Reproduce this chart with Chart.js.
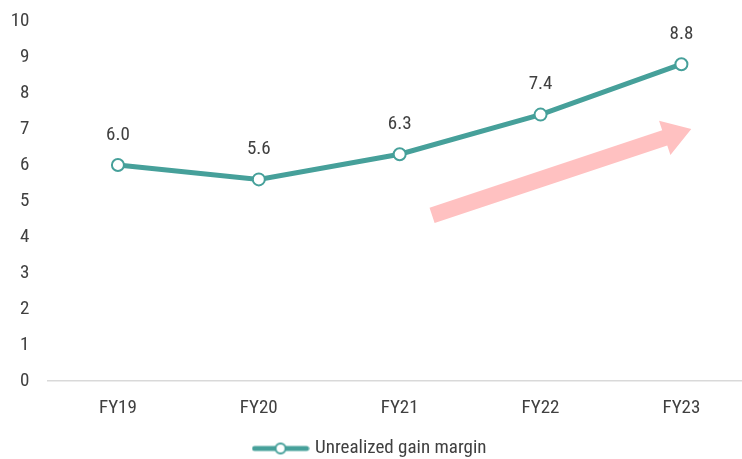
<!DOCTYPE html>
<html>
<head>
<meta charset="utf-8">
<script src="https://cdn.jsdelivr.net/npm/chart.js@4"></script>
<style>
  body { margin: 0; background: #fff; }
  #wrap { width: 742px; height: 459px; }
</style>
</head>
<body>
<div id="wrap"><canvas id="gainChart" width="742" height="459"></canvas></div>
<script>
// data
const years = ['FY19', 'FY20', 'FY21', 'FY22', 'FY23'];
const gainMargin = [6.0, 5.6, 6.3, 7.4, 8.8];
const yTicks = [0, 1, 2, 3, 4, 5, 6, 7, 8, 9, 10];
// trend arrow, in data units (x = category index, y = value)
const arrowFrom = [2.23, 4.6];
const arrowTo = [4.07, 7.0];

const teal = '#46a09a';
const textColor = '#404040';
const fontFamily = "'Liberation Sans Narrow', 'Roboto Condensed', 'Liberation Sans', Arial, sans-serif";
const fontSize = 19;

// legend marker: line with a hollow circle in the middle
const marker = document.createElement('canvas');
marker.width = 58;
marker.height = 14;
(function() {
    const c = marker.getContext('2d');
    c.strokeStyle = teal;
    c.lineWidth = 5;
    c.lineCap = 'round';
    c.beginPath();
    c.moveTo(3, 7);
    c.lineTo(55, 7);
    c.stroke();
    c.beginPath();
    c.arc(29, 7, 5, 0, Math.PI * 2);
    c.fillStyle = '#fff';
    c.fill();
    c.lineWidth = 2;
    c.stroke();
})();

// value labels above the points
const valueLabels = {
    id: 'valueLabels',
    afterDatasetsDraw(chart) {
        const ctx = chart.ctx;
        const meta = chart.getDatasetMeta(0);
        ctx.save();
        ctx.font = fontSize + 'px ' + fontFamily;
        ctx.fillStyle = textColor;
        ctx.textAlign = 'center';
        ctx.textBaseline = 'middle';
        meta.data.forEach(function(pt, i) {
            ctx.fillText(gainMargin[i].toFixed(1), pt.x, pt.y - 30);
        });
        ctx.restore();
    }
};

// pink trend arrow
const trendArrow = {
    id: 'trendArrow',
    beforeDatasetsDraw(chart) {
        const xs = chart.scales.x, ys = chart.scales.y;
        const x0 = xs.getPixelForValue(arrowFrom[0]), y0 = ys.getPixelForValue(arrowFrom[1]);
        const x1 = xs.getPixelForValue(arrowTo[0]), y1 = ys.getPixelForValue(arrowTo[1]);
        const ang = Math.atan2(y1 - y0, x1 - x0);
        const len = Math.hypot(x1 - x0, y1 - y0);
        const shaft = 8, head = 18, headLen = 28;
        const ctx = chart.ctx;
        ctx.save();
        ctx.translate(x0, y0);
        ctx.rotate(ang);
        ctx.fillStyle = '#ffc1c1';
        ctx.beginPath();
        ctx.moveTo(0, -shaft);
        ctx.lineTo(len - headLen, -shaft);
        ctx.lineTo(len - headLen, -head);
        ctx.lineTo(len, 0);
        ctx.lineTo(len - headLen, head);
        ctx.lineTo(len - headLen, shaft);
        ctx.lineTo(0, shaft);
        ctx.closePath();
        ctx.fill();
        ctx.restore();
    }
};

const ctx = document.getElementById('gainChart').getContext('2d');
const chart = new Chart(ctx, {
    type: 'line',
    data: {
        datasets: [{
            label: 'Unrealized gain margin',
            data: gainMargin.map(function(v, i) { return { x: i, y: v }; }),
            borderColor: teal,
            borderWidth: 5,
            pointRadius: 6,
            pointBorderWidth: 2,
            pointBackgroundColor: '#fff',
            pointBorderColor: teal,
            pointStyle: 'circle',
            tension: 0
        }]
    },
    options: {
        responsive: false,
        animation: false,
        layout: {
            autoPadding: false,
            padding: { top: 21, left: 0, right: 0, bottom: -9 }
        },
        scales: {
            x: {
                type: 'linear',
                min: -0.5,
                max: 4.43,
                afterBuildTicks: function(scale) {
                    scale.ticks = years.map(function(_, i) { return { value: i }; });
                },
                afterFit: function(scale) {
                    scale.height = 57;
                    scale.paddingLeft = 0;
                    scale.paddingRight = 0;
                },
                ticks: {
                    callback: function(v) { return years[v]; },
                    color: textColor,
                    font: { family: fontFamily, size: fontSize },
                    padding: 16,
                    maxRotation: 0
                },
                grid: { display: false, drawTicks: false },
                border: { color: '#d9d9d9', width: 1.5 }
            },
            y: {
                min: 0,
                max: 10,
                afterBuildTicks: function(scale) {
                    scale.ticks = yTicks.map(function(v) { return { value: v }; });
                },
                afterFit: function(scale) {
                    scale.width = 47.5;
                    scale.paddingTop = 0;
                    scale.paddingBottom = 0;
                },
                ticks: {
                    color: textColor,
                    font: { family: fontFamily, size: fontSize },
                    padding: 18
                },
                grid: { display: false, drawTicks: false },
                border: { display: false }
            }
        },
        plugins: {
            legend: {
                position: 'bottom',
                labels: {
                    usePointStyle: true,
                    pointStyle: marker,
                    pointStyleWidth: 50,
                    color: textColor,
                    font: { family: fontFamily, size: fontSize },
                    padding: 1
                }
            },
            tooltip: { enabled: false }
        }
    },
    plugins: [trendArrow, valueLabels]
});
</script>
</body>
</html>
